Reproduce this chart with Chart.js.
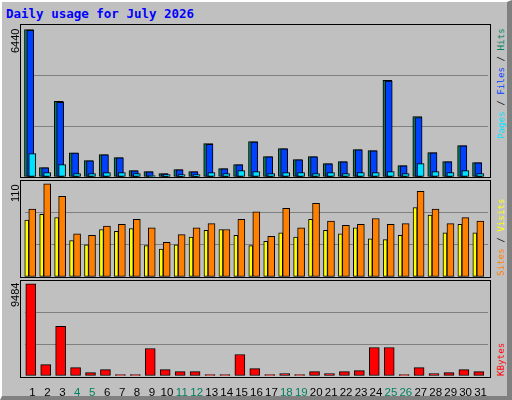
<!DOCTYPE html>
<html><head><meta charset="utf-8">
<script src="https://cdn.jsdelivr.net/npm/chart.js@4"></script>
<style>
html,body{margin:0;padding:0;width:512px;height:400px;overflow:hidden;background:#C0C0C0;}
#frame{position:absolute;left:0;top:0;border-left:2px solid #fff;border-top:2px solid #fff;border-right:5px solid #808080;border-bottom:4px solid #808080;box-sizing:border-box;width:512px;height:400px;}
.panel{position:absolute;left:20px;width:471px;border:1px solid #000;box-sizing:border-box;}
canvas{position:absolute;}
#title{position:absolute;left:6px;top:6px;font:bold 12.5px "DejaVu Sans Mono";color:#0000FF;white-space:nowrap;}
.vl{position:absolute;transform-origin:0 0;transform:rotate(-90deg);white-space:nowrap;line-height:12px;}
.max{font:11px "Liberation Sans";color:#000;}
.leg{font:9.2px "DejaVu Sans Mono";}
</style></head><body>
<div id="frame"></div>
<div id="title">Daily usage for July 2026</div>
<div class="panel" style="top:24px;height:154px"></div>
<div class="panel" style="top:180px;height:98px"></div>
<div class="panel" style="top:280px;height:98px"></div>
<canvas id="c1" style="left:20px;top:25px" width="471" height="152"></canvas>
<canvas id="c2" style="left:20px;top:180px" width="471" height="97"></canvas>
<canvas id="c3" style="left:20px;top:280px" width="471" height="118"></canvas>
<div class="vl max" style="left:9px;top:53px">6440</div>
<div class="vl max" style="left:9px;top:202px">110</div>
<div class="vl max" style="left:9px;top:307px">9484</div>
<div class="vl leg" style="left:495px;top:139px"><span style="color:#00E0FF">Pages</span><span style="color:#000"> / </span><span style="color:#0040FF">Files</span><span style="color:#000"> / </span><span style="color:#00805F">Hits</span></div>
<div class="vl leg" style="left:495px;top:276px"><span style="color:#FF8000">Sites</span><span style="color:#000"> / </span><span style="color:#FFFF00">Visits</span></div>
<div class="vl leg" style="left:495px;top:376px"><span style="color:#FF0000">KBytes</span></div>
<script>
const days = ["1","2","3","4","5","6","7","8","9","10","11","12","13","14","15","16","17","18","19","20","21","22","23","24","25","26","27","28","29","30","31"];
const weekend = [4,5,11,12,18,19,25,26];
const hits  = [6440,409,3300,1051,715,978,847,277,234,146,321,234,1460,365,540,1548,890,1241,759,890,584,672,1197,1153,4219,496,2643,1066,672,1372,628];
const files = [6400,395,3260,1040,705,968,835,265,225,140,310,225,1430,355,530,1530,880,1230,750,880,575,665,1185,1140,4190,485,2600,1055,665,1360,620];
const pages = [1022,190,540,146,146,190,190,146,58,102,102,102,190,146,277,234,146,190,190,146,190,146,190,190,234,146,584,234,190,277,146];
const sites  = [67,74,70,43,38,56,54,57,37,33,38,47,55,56,49,37,42,52,47,68,55,51,58,45,44,49,82,73,52,62,52];
const visits = [80,110,95,51,49,60,62,68,58,41,50,58,63,56,68,77,48,81,58,87,66,61,62,69,62,63,101,80,63,70,66];
const kbytes = [9484,1173,5106,862,345,655,138,138,2829,655,448,448,138,138,2208,759,138,241,138,448,241,448,552,2932,2932,138,862,241,345,655,448];

const shift = {id:'shift',
  beforeDatasetDraw(c,a){c.ctx.save();c.ctx.translate(c.data.datasets[a.index].dx||0,0);},
  afterDatasetDraw(c){c.ctx.restore();}};

function mk(id,datasets,max,showX){
  const x = {display:showX,grid:{display:false},border:{display:false},
     ticks:{padding:2,font:{family:'Liberation Sans',size:11.5},color:(ctx)=>weekend.includes(ctx.index+1)?'#00805F':'#000',autoSkip:false,maxRotation:0}};
  if(showX) x.afterFit=(s)=>{s.height=22;};
  new Chart(document.getElementById(id),{type:'bar',
    data:{labels:days,datasets},
    plugins:[shift],
    options:{responsive:false,animation:false,
      layout:{padding:{left:5,right:3,top:0,bottom:0}},
      plugins:{legend:{display:false},tooltip:{enabled:false}},
      datasets:{bar:{grouped:false,borderColor:'#000',borderWidth:1,borderSkipped:false}},
      scales:{
        x:x,
        y:{display:true,min:0,max:max,afterBuildTicks:(s)=>{s.ticks=[0,1,2,3].map(k=>({value:max*k/3}));},
           afterFit:(s)=>{s.width=0;},
           ticks:{display:false},border:{display:false},
           grid:{color:(ctx)=>(ctx.tick.value===0||ctx.tick.value===max)?'rgba(0,0,0,0)':'#808080',lineWidth:1,drawTicks:false}}
      }}});
}
mk('c1',[
  {data:hits,backgroundColor:'#00805F',barThickness:9,dx:-3.5,order:3},
  {data:files,backgroundColor:'#0040FF',barThickness:7,dx:-2.2,order:2},
  {data:pages,backgroundColor:'#00E0FF',barThickness:7,dx:-0.2,order:1}],6637,false);
mk('c2',[
  {data:sites,backgroundColor:'#FFFF00',barThickness:4,dx:-5.7,order:2},
  {data:visits,backgroundColor:'#FF8000',barThickness:7,dx:-0.2,order:1}],114.4,false);
mk('c3',[
  {data:kbytes,backgroundColor:'#FF0000',barThickness:10,dx:-1.7}],9867,true);
</script>
</body></html>
